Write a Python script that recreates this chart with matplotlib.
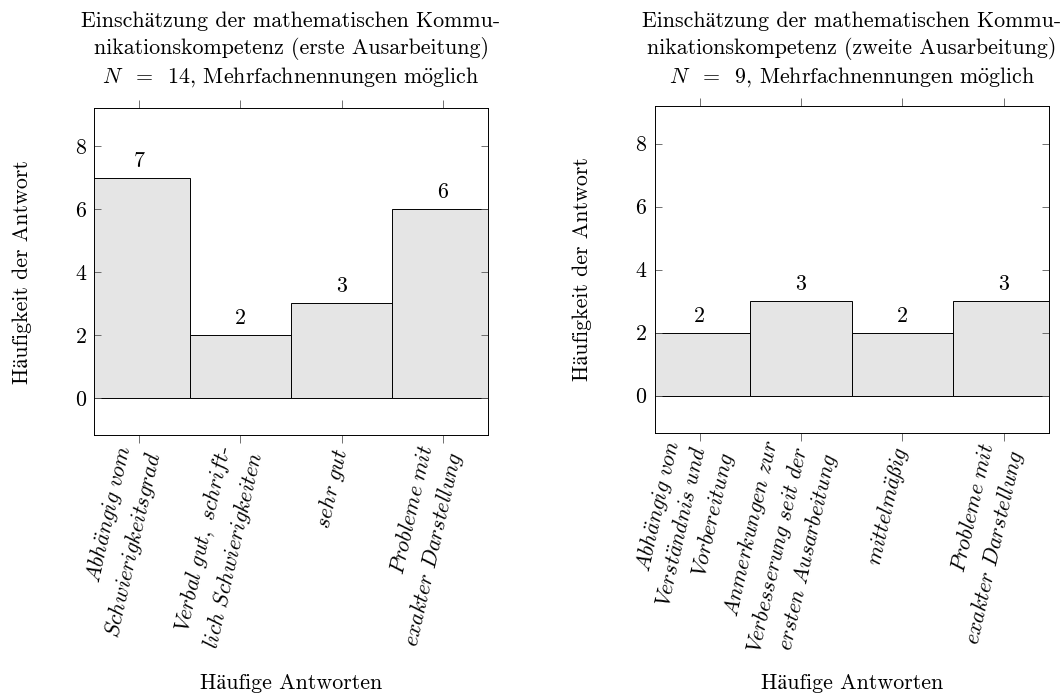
# Zwei Balkendiagramme: Einschaetzung der mathematischen Kommunikationskompetenz
import matplotlib
matplotlib.use("Agg")
import matplotlib.pyplot as plt
from matplotlib import transforms

plt.rcParams['font.family'] = ['cmr10', 'STIXGeneral']
plt.rcParams['mathtext.fontset'] = 'cm'
plt.rcParams['axes.formatter.use_mathtext'] = True
plt.rcParams['font.size'] = 15.8

# Daten erste Ausarbeitung
kategorien_1 = ['Abhängig vom\nSchwierigkeitsgrad',
                'Verbal gut, schrift-\nlich Schwierigkeiten',
                'sehr gut',
                'Probleme mit\nexakter Darstellung']
werte_1 = [7, 2, 3, 6]
titel_1 = ('Einschätzung der mathematischen Kommu-\n'
           'nikationskompetenz (erste Ausarbeitung)\n'
           r'$N\ \;=\ \;\mathrm{14,\,Mehrfachnennungen\ m\ddot{o}glich}$')

# Daten zweite Ausarbeitung
kategorien_2 = ['Abhängig von\nVerständnis und\nVorbereitung',
                'Anmerkungen zur\nVerbesserung seit der\nersten Ausarbeitung',
                'mittelmäßig',
                'Probleme mit\nexakter Darstellung']
werte_2 = [2, 3, 2, 3]
titel_2 = ('Einschätzung der mathematischen Kommu-\n'
           'nikationskompetenz (zweite Ausarbeitung)\n'
           r'$N\ \;=\ \;\mathrm{9,\,Mehrfachnennungen\ m\ddot{o}glich}$')

y_label = 'Häufigkeit der Antwort'
x_label = 'Häufige Antworten'


def kursiv(text):
    # Zeilen als mathtext in Kursivschrift (Computer Modern)
    zeilen = []
    for zeile in text.split('\n'):
        rest = ''
        if zeile.endswith('-'):
            zeile, rest = zeile[:-1], '-'
        z = zeile.replace('ä', r'\ddot{a}').replace('ö', r'\ddot{o}').replace(' ', r'\ ')
        zeilen.append(r'$\mathit{' + z + '}$' + rest)
    return '\n'.join(zeilen)


def diagramm(ax, kategorien, werte, titel):
    pos = list(range(len(werte)))
    balken = ax.bar(pos, werte, width=1.0, color='#e5e5e5', edgecolor='black', linewidth=0.7)
    ax.bar_label(balken, fmt='%d', padding=5)
    ax.set_xlim(-0.445, 3.445)
    ax.set_ylim(-1.18, 9.2)
    ax.set_yticks([0, 2, 4, 6, 8])
    ax.set_xticks(pos)
    ax.set_xticklabels([kursiv(k) for k in kategorien])
    plt.setp(ax.get_xticklabels(), rotation=77, ha='right', va='center',
             rotation_mode='anchor', multialignment='right', linespacing=1.35)
    ax.tick_params(axis='x', direction='out', length=5.8, width=0.6, color='0.35',
                   top=True, bottom=True, pad=4.2)
    ax.tick_params(axis='y', direction='in', length=5.3, width=0.6, color='0.35',
                   left=True, right=True, labelright=False, pad=5.3)
    for s in ax.spines.values():
        s.set_linewidth(0.7)

    ax.set_ylabel(y_label)
    ax.yaxis.set_label_coords(-0.184, 0.5)
    ax.yaxis.label.set_va('center')

    ax.set_xlabel(x_label)
    trans = transforms.blended_transform_factory(ax.transAxes, fig.transFigure)
    ax.xaxis.set_label_coords(0.5, 1 - 683 / 695, transform=trans)
    ax.xaxis.label.set_va('center')

    ax.text(0.5, 1 - 83 / 695, titel, transform=trans, ha='center', va='baseline',
            multialignment='center', linespacing=1.35)


fig = plt.figure(figsize=(10.64, 6.95), dpi=100)
ax1 = fig.add_axes([94.3 / 1064, 1 - 435 / 695, 393.4 / 1064, 326.7 / 695])
ax2 = fig.add_axes([654.7 / 1064, 1 - 432.7 / 695, 394 / 1064, 327 / 695])

diagramm(ax1, kategorien_1, werte_1, titel_1)
diagramm(ax2, kategorien_2, werte_2, titel_2)

plt.savefig('out.png', dpi=100)
